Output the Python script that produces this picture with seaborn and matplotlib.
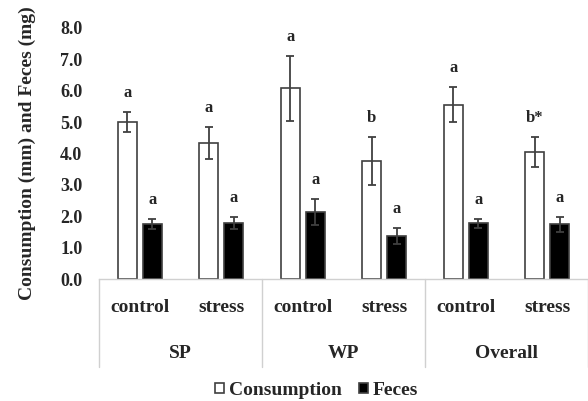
import pandas as pd
import matplotlib
matplotlib.use("Agg")
import matplotlib.pyplot as plt
import matplotlib.transforms as mtransforms
import seaborn as sns

# values
groups = ["SP", "SP", "WP", "WP", "Overall", "Overall"]
treatments = ["control", "stress", "control", "stress", "control", "stress"]
consumption = [5.0, 4.33, 6.07, 3.75, 5.55, 4.05]
consumption_err = [0.32, 0.52, 1.04, 0.76, 0.55, 0.47]
feces = [1.74, 1.79, 2.13, 1.38, 1.77, 1.74]
feces_err = [0.16, 0.18, 0.42, 0.25, 0.13, 0.25]
consumption_letters = ["a", "a", "a", "b", "a", "b*"]
feces_letters = ["a", "a", "a", "a", "a", "a"]
group_names = ["SP", "WP", "Overall"]

keys = [g + " " + t for g, t in zip(groups, treatments)]
df = pd.DataFrame({
    "key": keys * 2,
    "value": consumption + feces,
    "series": ["Consumption"] * 6 + ["Feces"] * 6,
})

sns.set_style("white")
plt.rcParams["font.family"] = ["Liberation Serif", "DejaVu Serif"]
plt.rcParams["font.weight"] = "bold"

fig = plt.figure(figsize=(5.88, 4.01), dpi=100)
ax = fig.add_axes([0.1684, 0.304, 0.8316, 0.6267])

sns.barplot(data=df, x="key", y="value", hue="series", order=keys,
            hue_order=["Consumption", "Feces"],
            palette={"Consumption": "white", "Feces": "black"},
            width=0.61, gap=0.24, errorbar=None, ax=ax,
            edgecolor="#404040", linewidth=1.2)

for cont, vals, errs, letters in zip(ax.containers,
                                     [consumption, feces],
                                     [consumption_err, feces_err],
                                     [consumption_letters, feces_letters]):
    xs = [b.get_x() + b.get_width() / 2 for b in cont]
    ax.errorbar(xs, vals, yerr=errs, fmt="none", ecolor="#404040",
                elinewidth=1.3, capsize=3, capthick=1.3)
    for x, v, e, lab in zip(xs, vals, errs, letters):
        ax.annotate(lab, (x, v + e), xytext=(0, 19), textcoords="offset pixels",
                    ha="center", va="center", fontsize=12, fontweight="bold")

ax.set_ylim(0, 8)
ax.set_xlim(-0.5, 5.5)
ax.set_yticks([0, 1, 2, 3, 4, 5, 6, 7, 8])
ax.set_yticklabels([f"{v:.1f}" for v in ax.get_yticks()], fontsize=13,
                   fontweight="bold")
ax.set_xticks(range(6))
ax.set_xticklabels(treatments, fontsize=14, fontweight="bold")
ax.tick_params(axis="x", length=0, pad=14)
ax.tick_params(axis="y", length=0, pad=12)
ax.set_xlabel("")
ax.set_ylabel("Consumption (mm) and Feces (mg)", fontsize=14,
              fontweight="bold")
ax.yaxis.set_label_coords(-0.128, 0.5)

for side in ["left", "right", "top"]:
    ax.spines[side].set_visible(False)
ax.spines["bottom"].set_color("#d0d0d0")
ax.spines["bottom"].set_linewidth(1.0)

# category table under the axis
trans = mtransforms.blended_transform_factory(ax.transData, ax.transAxes)
for xb in [-0.5, 1.5, 3.5, 5.5]:
    ax.plot([xb, xb], [0, -0.35], transform=trans, color="#d0d0d0",
            lw=1.0, clip_on=False)
for i, g in enumerate(group_names):
    ax.text(2 * i + 0.5, -0.298, g, transform=trans, ha="center", va="center",
            fontsize=14, fontweight="bold")

handles, labels = ax.get_legend_handles_labels()
ax.get_legend().remove()
fig.legend(handles, labels, loc="center", bbox_to_anchor=(0.539, 0.027),
           ncol=2, frameon=False, handlelength=0.45, handleheight=0.45,
           handletextpad=0.25, columnspacing=0.9,
           prop={"size": 14, "weight": "bold"})

fig.savefig("out.png", dpi=100)
